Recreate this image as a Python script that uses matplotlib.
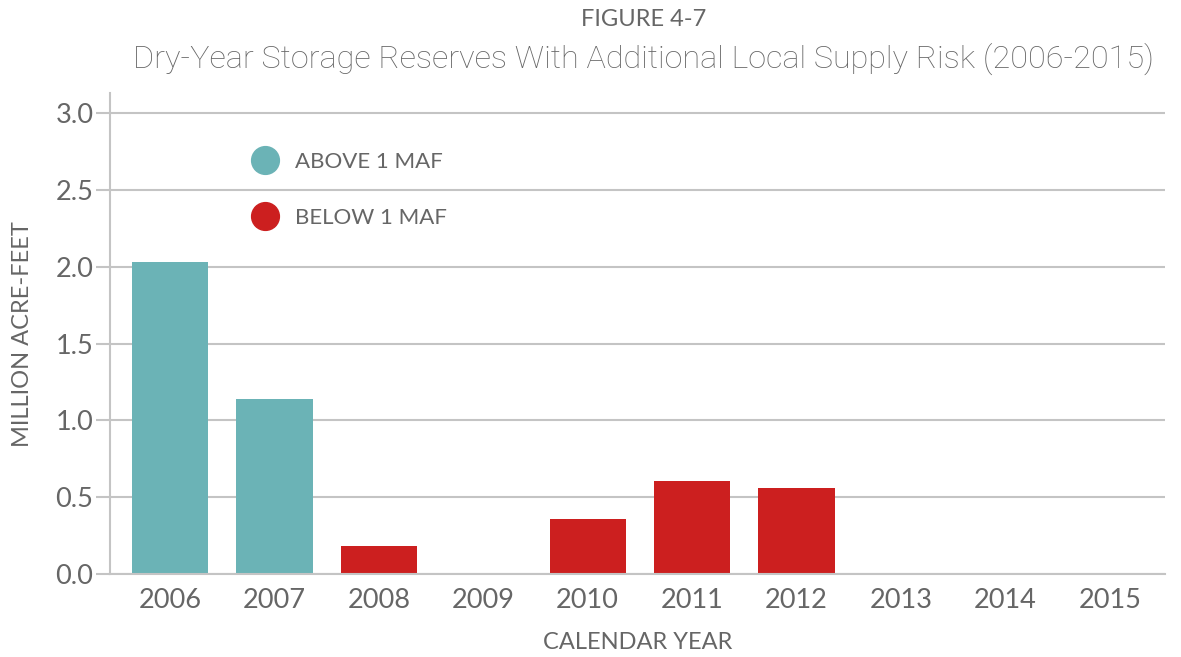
import matplotlib
matplotlib.use("Agg")
import matplotlib.pyplot as plt
from matplotlib.lines import Line2D

years = ["2006", "2007", "2008", "2009", "2010", "2011", "2012", "2013", "2014", "2015"]
values = [2.03, 1.14, 0.18, 0.0, 0.36, 0.605, 0.56, 0.0, 0.0, 0.0]
above_label = "ABOVE 1 MAF"
below_label = "BELOW 1 MAF"
yticks = [0.0, 0.5, 1.0, 1.5, 2.0, 2.5, 3.0]

TEAL = "#6BB3B6"
RED = "#CC1F1F"
GREY = "#666666"
GRID = "#C4C4C4"

plt.rcParams['font.family'] = ['Lato', 'DejaVu Sans']

fig = plt.figure(figsize=(11.81, 6.57), dpi=100)
ax = fig.add_axes([0.0931, 0.1263, 0.8934, 0.7317])

x = list(range(len(years)))
colors = [TEAL if v > 1 else RED for v in values]
ax.bar(x, values, width=0.73, color=colors, zorder=3)

ax.set_xlim(-0.575, 9.53)
ax.set_ylim(0, 3.13)
ax.set_yticks(yticks)
ax.set_yticklabels([f"{t:.1f}" for t in yticks])
ax.set_xticks(x)
ax.set_xticklabels(years)

ax.grid(axis='y', color=GRID, linewidth=1.5, zorder=0)
for s in ['top', 'right', 'bottom']:
    ax.spines[s].set_visible(False)
ax.spines['left'].set_color(GRID)
ax.spines['left'].set_linewidth(1.5)
ax.axhline(0, color=GRID, linewidth=1.5, zorder=4, clip_on=False)

ax.tick_params(axis='y', length=10, color=GRID, width=1.5, labelsize=19.5, labelcolor=GREY, pad=2)
ax.tick_params(axis='x', length=0, labelsize=19.5, labelcolor=GREY, pad=10)

ax.set_ylabel("MILLION ACRE-FEET", fontsize=17, color=GREY, labelpad=16)
ax.set_xlabel("CALENDAR YEAR", fontsize=17, color=GREY, labelpad=14)

handles = [
    Line2D([], [], marker='o', linestyle='none', markersize=20, color=TEAL),
    Line2D([], [], marker='o', linestyle='none', markersize=20, color=RED),
]
leg = ax.legend(handles, [above_label, below_label], loc='upper left',
                bbox_to_anchor=(0.107, 0.92), frameon=False, fontsize=16,
                labelspacing=1.62, handletextpad=0.35, labelcolor=GREY)

fig.text(0.545, 0.987, "FIGURE 4-7", ha='center', va='top', fontsize=17, color=GREY)
fig.text(0.545, 0.935, "Dry-Year Storage Reserves With Additional Local Supply Risk (2006-2015)",
         ha='center', va='top', fontsize=23.3, color=GREY,
         family=['Roboto', 'DejaVu Sans'], fontweight='light')

fig.savefig("out.png", dpi=100)
